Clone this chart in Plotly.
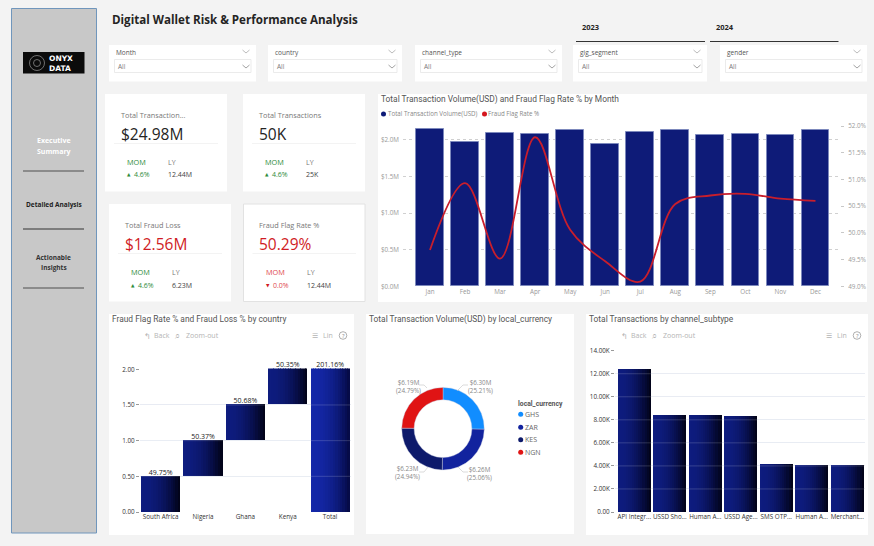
import numpy as np
import plotly.graph_objects as go

W, H = 874, 546

# --- data ---
months = ["Jan", "Feb", "Mar", "Apr", "May", "Jun", "Jul", "Aug", "Sep", "Oct", "Nov", "Dec"]
volume_musd = [2.15, 1.97, 2.09, 2.08, 2.135, 1.95, 2.105, 2.13, 2.065, 2.075, 2.07, 2.13]
fraud_rate = [49.68, 50.93, 49.52, 51.79, 50.06, 49.47, 49.09, 50.54, 50.70, 50.73, 50.64, 50.60]

countries = ["South Africa", "Nigeria", "Ghana", "Kenya", "Total"]
country_rate = [0.4975, 0.5037, 0.5068, 0.5035, 2.0116]
country_base = [0, 0.4975, 1.0012, 1.508, 0]
country_labels = ["49.75%", "50.37%", "50.68%", "50.35%", "201.16%"]

currencies = ["GHS", "ZAR", "KES", "NGN"]
currency_vol = [6.30, 6.26, 6.23, 6.19]
currency_pct = [25.21, 25.06, 24.94, 24.79]
currency_colors = ["#118DFF", "#12239E", "#0D1A6B", "#E01414"]

subtypes = ["API Integr...", "USSD Sho...", "Human A...", "USSD Age...", "SMS OTP...", "Human A...", "Merchant..."]
subtype_k = [12.41, 8.44, 8.44, 8.34, 4.17, 4.08, 4.07]

# title, value, MOM, LY, card box
kpi_titles = ["Total Transaction...", "Total Transactions", "Total Fraud Loss", "Fraud Flag Rate %"]
kpi_values = ["$24.98M", "50K", "$12.56M", "50.29%"]
kpi_mom = ["4.6%", "4.6%", "4.6%", "0.0%"]
kpi_ly = ["12.44M", "25K", "6.23M", "12.44M"]

filters = ["Month", "country", "channel_type", "gig_segment", "gender"]

FONT = "Open Sans"
HEAD = "Roboto"
NAVY = "#0E1B78"

shapes = []
notes = []


def fx(x):
    return x / W


def fy(y):
    return 1 - y / H


def box(x0, y0, x1, y1, fill="white", line=None, lw=1, layer="below"):
    shapes.append(dict(type="rect", xref="paper", yref="paper", x0=fx(x0), x1=fx(x1), y0=fy(y0), y1=fy(y1),
                       fillcolor=fill, line=dict(color=line or fill, width=lw if line else 0), layer=layer))


def seg(x0, y0, x1, y1, color, lw=1, layer="below"):
    shapes.append(dict(type="line", xref="paper", yref="paper", x0=fx(x0), x1=fx(x1), y0=fy(y0), y1=fy(y1),
                       line=dict(color=color, width=lw), layer=layer))


def circle(cx, cy, r, fill=None, line=None, lw=1):
    shapes.append(dict(type="circle", xref="paper", yref="paper", x0=fx(cx - r), x1=fx(cx + r),
                       y0=fy(cy + r), y1=fy(cy - r), fillcolor=fill or "rgba(0,0,0,0)",
                       line=dict(color=line or "rgba(0,0,0,0)", width=lw), layer="above"))


def label(x, y, s, size=8, color="#333333", anchor="left", font=FONT):
    # left anchored annotations land about a pixel to the right
    if anchor == "left":
        x -= 1
    notes.append(dict(xref="paper", yref="paper", x=fx(x), y=fy(y), text=s, showarrow=False,
                      xanchor=anchor, yanchor="middle", align=anchor, borderpad=0,
                      font=dict(size=size, color=color, family=font)))


def chevron(cx, cy, color="#8a8a8a"):
    seg(cx - 3.5, cy - 1.5, cx, cy + 1.5, color, 0.8, "above")
    seg(cx, cy + 1.5, cx + 3.5, cy - 1.5, color, 0.8, "above")


def ramp(left, right, n=16):
    a = np.array([int(left[i:i + 2], 16) for i in (1, 3, 5)])
    b = np.array([int(right[i:i + 2], 16) for i in (1, 3, 5)])
    return ["rgb(%d,%d,%d)" % tuple(a + (b - a) * t) for t in np.linspace(0, 1, n) ** 2]


def toolbar(back_x, lin_x, y=335.5):
    grey = "#b4b4b4"
    label(back_x, y, "↰", 8, grey)
    label(back_x + 10, y, "Back", 7, grey)
    label(back_x + 31, y, "⌕", 9, grey, font="DejaVu Sans")
    label(back_x + 42, y, "Zoom-out", 7, grey)
    label(lin_x, y, "☰", 7, grey, font="DejaVu Sans")
    label(lin_x + 11, y, "Lin", 7, grey)
    circle(lin_x + 31, y, 3.8, line="#9a9a9a", lw=0.8)
    label(lin_x + 31, y, "?", 6, "#8a8a8a", "center")


# --- page furniture ---
box(11.5, 8.5, 96.5, 533, "#C8C8C8", "#7096BC", 1)
box(23, 52, 84.5, 73.5, "#0B0B0B")
circle(37, 63, 7.5, line="#888888", lw=0.8)
circle(37, 63, 3.5, line="#888888", lw=0.8)
label(49, 63, "<b>ONYX<br>DATA</b>", 7.5, "white", font="DejaVu Sans")
label(53.5, 140, "<b>Executive</b>", 7, "white", "center")
label(53.5, 151, "<b>Summary</b>", 7, "white", "center")
seg(23, 171, 84, 171, "#777777", 1.5)
label(53.5, 204.5, "<b>Detailed Analysis</b>", 6.5, "#222222", "center")
seg(23, 229, 84, 229, "#333333", 1.2)
label(53.5, 257.5, "<b>Actionable</b>", 6.5, "#333333", "center")
label(53.5, 267.5, "<b>Insights</b>", 6.5, "#333333", "center")
seg(23, 288, 84, 288, "#777777", 1.5)

label(112, 20, "<b>Digital Wallet Risk &amp; Performance Analysis</b>", 11.6, "#252423")
label(582, 27, "<b>2023</b>", 7.5, "#252423")
label(716, 27, "<b>2024</b>", 7.5, "#252423")
seg(576, 41.5, 705, 41.5, "#333333", 1)
seg(710, 41.5, 838.5, 41.5, "#333333", 1)

# slicers
filter_x = [(109, 256), (268, 402), (415, 562), (573, 707), (720, 867)]
for name, (x0, x1) in zip(filters, filter_x):
    box(x0, 45, x1, 81.5)
    box(x0 + 5.5, 59.5, x1 - 5, 72.5, "white", "#E6E6E6", 0.8)
    label(x0 + 6.5, 52, name, 6.5, "#555555")
    label(x0 + 9, 66.3, "All", 6.5, "#777777")
    chevron(x1 - 10, 51.5, "#aaaaaa")
    chevron(x1 - 10, 66.5)

# KPI cards
kpi_box = [(105, 94, 227, 191.5), (243, 94, 365, 191.5), (109, 204, 231, 301.5), (243.5, 204, 365, 301.5)]
kpi_color = ["#252423", "#252423", "#D01C24", "#D01C24"]
for i, (x0, y0, x1, y1) in enumerate(kpi_box):
    box(x0, y0, x1, y1, "white", "#E2E2E2" if i == 3 else None, 1)
    seg(x0 + 9, y0 + 49.5, x1 - 9, y0 + 49.5, "#F0F0F0", 0.8)
    label(x0 + 15.5, y0 + 21, kpi_titles[i], 7.3, "#777777")
    label(x0 + 15.5, y0 + 40, kpi_values[i], 15.5, kpi_color[i])
    good = i < 3
    mom_color = "#2E8B3A" if good else "#E0484E"
    label(x0 + 22, y0 + 68, "MOM", 7.3, mom_color)
    label(x0 + 63, y0 + 68, "LY", 7, "#777777")
    label(x0 + 22, y0 + 81, "▲" if good else "▼", 4.5, "#2E8B3A" if good else "#D01C24", font="DejaVu Sans")
    label(x0 + 29, y0 + 81, kpi_mom[i], 7, mom_color)
    label(x0 + 63, y0 + 81, kpi_ly[i], 7, "#444444")

# chart panels
box(378, 94, 867, 302)
box(109, 314, 354, 535)
box(366, 314, 574, 534)
box(586, 314, 868, 535)
label(381, 99.3, "Total Transaction Volume(USD) and Fraud Flag Rate % by Month", 8.4, "#555555", font=HEAD)
label(112, 319.3, "Fraud Flag Rate % and Fraud Loss % by country", 8.4, "#555555", font=HEAD)
label(369, 319.3, "Total Transaction Volume(USD) by local_currency", 8.4, "#555555", font=HEAD)
label(589, 319.3, "Total Transactions by channel_subtype", 8.4, "#555555", font=HEAD)

# monthly chart legend
circle(383.5, 114, 2.5, fill=NAVY)
label(387.5, 113.7, "Total Transaction Volume(USD)", 6.2, "#888888")
circle(484.5, 114, 2.5, fill="#D5161E")
label(488, 113.7, "Fraud Flag Rate %", 6.2, "#888888")

toolbar(144, 312)
toolbar(621, 826)

fig = go.Figure()

# --- monthly combo ---
fig.add_trace(go.Bar(x=months, y=volume_musd, width=0.79, marker=dict(color=NAVY, line=dict(color="#7C88BC", width=1)),
                     xaxis="x", yaxis="y", showlegend=False))
fig.add_trace(go.Scatter(x=months, y=fraud_rate, mode="lines", line=dict(color="#C81E2C", width=1.8, shape="spline", smoothing=1),
                         xaxis="x", yaxis="y2", showlegend=False))


def gradient_bars(values, bases, width, colors, xaxis, yaxis):
    # power bi style gradient: overlapped vertical slices, one bar trace per slice
    n = len(colors[0])
    xs = list(range(len(values)))
    step = width / n
    for k in range(n):
        fig.add_trace(go.Bar(x=xs, y=values, base=bases, width=min(step * 1.3, width - step * k),
                             offset=-width / 2 + step * k,
                             marker=dict(color=[c[k] for c in colors], line=dict(width=0)),
                             xaxis=xaxis, yaxis=yaxis, showlegend=False))


# --- country waterfall ---
dark = ramp("#0E1C7E", "#02031A")
bright = ramp("#1428A8", "#060B48")
gradient_bars(country_rate, country_base, 0.928, [dark, dark, dark, dark, bright], "x2", "y3")
fig.add_trace(go.Scatter(x=list(range(len(countries))), y=[b + v for b, v in zip(country_base, country_rate)],
                         mode="text", text=country_labels, textposition="top center", cliponaxis=False,
                         textfont=dict(size=7, color="#222222", family=FONT),
                         xaxis="x2", yaxis="y3", showlegend=False))

# --- currency donut ---
cx, cy, r = 443, 428.7, 41.3
fig.add_trace(go.Pie(labels=currencies, values=currency_vol, hole=0.7, sort=False, direction="clockwise", rotation=0,
                     marker=dict(colors=currency_colors, line=dict(color="#C8CCE0", width=0.4)),
                     textinfo="none", showlegend=False,
                     domain=dict(x=[fx(cx - r), fx(cx + r)], y=[fy(cy + r), fy(cy - r)])))
donut_text = [(469, 382), (468.5, 469), (396.5, 468.5), (397, 382)]
donut_lead = [[(457, 391), (463, 385), (468, 385)], [(458, 467), (463, 472), (468, 472)],
              [(428, 467), (424, 472), (419, 472)], [(427, 388), (424, 385), (419, 385)]]
for i, (tx, ty) in enumerate(donut_text):
    label(tx + 11, ty + 4, "$%.2fM<br>(%.2f%%)" % (currency_vol[i], currency_pct[i]), 6.3, "#888888", "center")
    pts = donut_lead[i]
    for a, b in zip(pts[:-1], pts[1:]):
        seg(a[0], a[1], b[0], b[1], "#C4C4C4", 0.6, "above")

label(517.7, 403.7, "<b>local_currency</b>", 6.8, "#555555", font=HEAD)
for name, col, ly in zip(currencies, currency_colors, [414.3, 427.3, 439.7, 452.3]):
    circle(520.7, ly, 2.5, fill=col)
    label(524.7, ly, name, 7, "#666666")

# --- channel bars ---
gradient_bars(subtype_k, [0] * len(subtype_k), 0.92, [dark] * len(subtype_k), "x3", "y4")

# gridlines sit on top of the bars in the two gradient charts
for val in [0.5, 1.0, 1.5]:
    shapes.append(dict(type="line", xref="x2 domain", yref="y3", x0=0, x1=1, y0=val, y1=val,
                       line=dict(color="rgba(255,255,255,0.22)", width=0.8), layer="above"))
for val in [2, 4, 6, 8, 10, 12]:
    shapes.append(dict(type="line", xref="x3 domain", yref="y4", x0=0, x1=1, y0=val, y1=val,
                       line=dict(color="rgba(255,255,255,0.22)", width=0.8), layer="above"))

tick_grey = dict(size=6.3, color="#999999", family=FONT)
tick_dark = dict(size=6.3, color="#333333", family=FONT)

fig.update_layout(
    width=W, height=H, margin=dict(l=0, r=0, t=0, b=0, autoexpand=False),
    paper_bgcolor="#F3F3F3", plot_bgcolor="rgba(0,0,0,0)",
    barmode="overlay", bargap=0, shapes=shapes, annotations=notes,
    xaxis=dict(domain=[fx(403), fx(840)], anchor="y", range=[-0.77, 11.7], showgrid=False, zeroline=False,
               tickfont=tick_grey, ticks="", automargin=False, tickangle=0),
    yaxis=dict(domain=[fy(286.4), fy(126)], anchor="x", range=[0, 2.191], tickvals=[0, 0.5, 1.0, 1.5, 2.0],
               ticktext=["$0.0M", "$0.5M", "$1.0M", "$1.5M", "$2.0M"], gridcolor="#D0D0D0", griddash="dot",
               gridwidth=0.7, zeroline=False, tickfont=tick_grey, ticks="", ticklabelstandoff=3, automargin=False),
    yaxis2=dict(domain=[fy(286.4), fy(126)], anchor="x", overlaying="y", side="right", range=[49, 52],
                tickvals=[49, 49.5, 50, 50.5, 51, 51.5, 52],
                ticktext=["49.0%", "49.5%", "50.0%", "50.5%", "51.0%", "51.5%", "52.0%"],
                showgrid=False, zeroline=False, tickfont=tick_grey, ticks="outside", ticklen=3, tickcolor="#C8C8C8",
                tickwidth=0.7, ticklabelstandoff=3, automargin=False),
    xaxis2=dict(domain=[fx(140), fx(350.5)], anchor="y3", range=[-0.488, 4.48], tickvals=list(range(len(countries))),
                ticktext=countries, showgrid=False, zeroline=False, tickfont=tick_dark, ticks="", automargin=False,
                tickangle=0),
    # top of the range is just past the tallest bar so its label is kept
    yaxis3=dict(domain=[fy(512), fy(368.4)], anchor="x2", range=[0, 2.0125], tickvals=[0, 0.5, 1.0, 1.5, 2.0],
                ticktext=["0.00", "0.50", "1.00", "1.50", "2.00"], gridcolor="#E6EAF2", gridwidth=0.7, zeroline=False,
                tickfont=tick_dark, ticks="outside", ticklen=3, tickcolor="#999999", tickwidth=0.7, automargin=False),
    xaxis3=dict(domain=[fx(615), fx(865)], anchor="y4", range=[-0.544, 6.5], tickvals=list(range(len(subtypes))),
                ticktext=subtypes, showgrid=False, zeroline=False, tickfont=tick_dark, ticks="", automargin=False,
                tickangle=0),
    yaxis4=dict(domain=[fy(512), fy(350.7)], anchor="x3", range=[0, 14], tickvals=[0, 2, 4, 6, 8, 10, 12, 14],
                ticktext=["0.00", "2.00K", "4.00K", "6.00K", "8.00K", "10.00K", "12.00K", "14.00K"],
                gridcolor="#E6EAF2", gridwidth=0.7, zeroline=False, tickfont=tick_dark, ticks="outside", ticklen=3,
                tickcolor="#999999", tickwidth=0.7, automargin=False),
)

fig.write_html("out.html", config=dict(displayModeBar=False),
               post_script="document.body.style.margin='0';document.body.style.overflow='hidden';")
